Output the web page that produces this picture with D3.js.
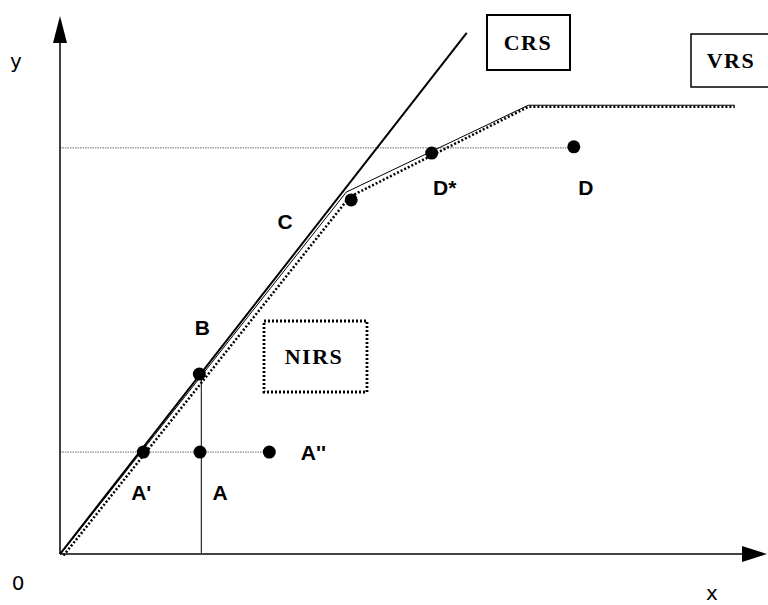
<!DOCTYPE html>
<html>
<head>
<meta charset="utf-8">
<script src="https://cdn.jsdelivr.net/npm/d3@7"></script>
<style>
  body { margin: 0; background: #fff; }
  svg { display: block; }
</style>
</head>
<body>
<svg></svg>
<script>
var width = 768
var height = 605

// frontiers (data units)
var crsLine = [[0, 0], [5.81, 10.02]]
var vrsLine = [[0.01, 0], [4.09, 6.96], [6.69, 8.63], [9.64, 8.63]]
var nirsLine = [[0.05, -0.03], [4.14, 6.87], [6.69, 8.6], [9.64, 8.6]]

// observed / projected units
var pointNames = ["A'", "A", "A''", "B", "C", "D*", "D"]
var pointX = [1.19, 2.0, 2.99, 1.99, 4.16, 5.31, 7.34]
var pointY = [1.96, 1.96, 1.96, 3.46, 6.81, 7.71, 7.83]

// guide lines
var guideLevels = [1.96, 7.81]
var guideEnds = [2.93, 7.31]

// regime labels
var regimes = ["CRS", "VRS", "NIRS"]

var x = d3.scaleLinear().domain([0, 10]).range([60, 760])
var y = d3.scaleLinear().domain([0, 10]).range([554, 34])

const svg = d3.select("svg")
    .attr("width", width)
    .attr("height", height)
    .attr("viewBox", [0, 0, width, height])

var line = d3.line()
    .x(d => x(d[0]))
    .y(d => y(d[1]))

// dotted guide lines
svg.append("g")
    .selectAll("line")
    .data(guideLevels)
    .join("line")
    .attr("x1", x(0))
    .attr("x2", (d, i) => x(guideEnds[i]))
    .attr("y1", d => y(d))
    .attr("y2", d => y(d))
    .attr("stroke", "#666")
    .attr("stroke-width", 1)
    .attr("stroke-dasharray", "1.5,1")

// vertical from B down to x axis
svg.append("line")
    .attr("x1", x(pointX[3]) + 2).attr("x2", x(pointX[3]) + 2)
    .attr("y1", y(pointY[3])).attr("y2", y(0))
    .attr("stroke", "#000")
    .attr("stroke-width", 1)

// axes
svg.append("line")
    .attr("x1", x(0)).attr("x2", 742)
    .attr("y1", y(0)).attr("y2", y(0))
    .attr("stroke", "#444").attr("stroke-width", 2)
svg.append("path")
    .attr("d", `M742,${y(0) - 8}L767,${y(0)}L742,${y(0) + 8}Z`)
    .attr("fill", "#000")
svg.append("line")
    .attr("x1", x(0)).attr("x2", x(0))
    .attr("y1", y(0)).attr("y2", 40)
    .attr("stroke", "#000").attr("stroke-width", 1.5)
svg.append("path")
    .attr("d", `M${x(0) - 7},43L${x(0)},16L${x(0) + 7},43Z`)
    .attr("fill", "#000")

svg.append("g")
    .style("font", "20px 'DejaVu Sans', sans-serif")
    .selectAll("text")
    .data([["0", 18, 590], ["x", 712, 600], ["y", 16, 68]])
    .join("text")
    .attr("x", d => d[1])
    .attr("y", d => d[2])
    .attr("text-anchor", "middle")
    .text(d => d[0])

// frontiers
svg.append("path")
    .attr("d", line(vrsLine))
    .attr("fill", "none")
    .attr("stroke", "#000")
    .attr("stroke-width", 1)
svg.append("path")
    .attr("d", line(nirsLine))
    .attr("fill", "none")
    .attr("stroke", "#000")
    .attr("stroke-width", 2.5)
    .attr("stroke-dasharray", "2,2")
svg.append("path")
    .attr("d", line(crsLine))
    .attr("fill", "none")
    .attr("stroke", "#000")
    .attr("stroke-width", 2)

// points
svg.append("g")
    .selectAll("circle")
    .data(pointX)
    .join("circle")
    .attr("cx", d => x(d))
    .attr("cy", (d, i) => y(pointY[i]))
    .attr("r", 6.5)
    .attr("fill", "#000")

var labelOffset = [[-2, 48], [20, 48], [44, 8], [3, -39], [-66, 29], [13, 42], [12, 48]]
svg.append("g")
    .style("font", "bold 21px 'Liberation Sans', Arial, sans-serif")
    .selectAll("text")
    .data(pointNames)
    .join("text")
    .attr("x", (d, i) => x(pointX[i]) + labelOffset[i][0])
    .attr("y", (d, i) => y(pointY[i]) + labelOffset[i][1])
    .attr("text-anchor", "middle")
    .text(d => d)

// regime boxes
var boxes = [
    {x0: 487, y0: 15, x1: 570, y1: 70, cx: 528, dash: null, sw: 2},
    {x0: 691, y0: 34, x1: 772, y1: 87, cx: 731, dash: null, sw: 1.5},
    {x0: 264, y0: 321, x1: 367, y1: 392, cx: 314, dash: "2,2", sw: 2.8}
]
var box = svg.append("g")
    .selectAll("g")
    .data(regimes)
    .join("g")
box.append("rect")
    .attr("x", (d, i) => boxes[i].x0)
    .attr("y", (d, i) => boxes[i].y0)
    .attr("width", (d, i) => boxes[i].x1 - boxes[i].x0)
    .attr("height", (d, i) => boxes[i].y1 - boxes[i].y0)
    .attr("fill", "#fff")
    .attr("stroke", "#000")
    .attr("stroke-width", (d, i) => boxes[i].sw)
    .attr("stroke-dasharray", (d, i) => boxes[i].dash)
box.append("text")
    .attr("x", (d, i) => boxes[i].cx)
    .attr("y", (d, i) => (boxes[i].y0 + boxes[i].y1) / 2 + 7)
    .attr("text-anchor", "middle")
    .style("font", "bold 22px 'Liberation Serif', 'Times New Roman', serif")
    .style("letter-spacing", "1.5px")
    .text(d => d)
</script>
</body>
</html>
